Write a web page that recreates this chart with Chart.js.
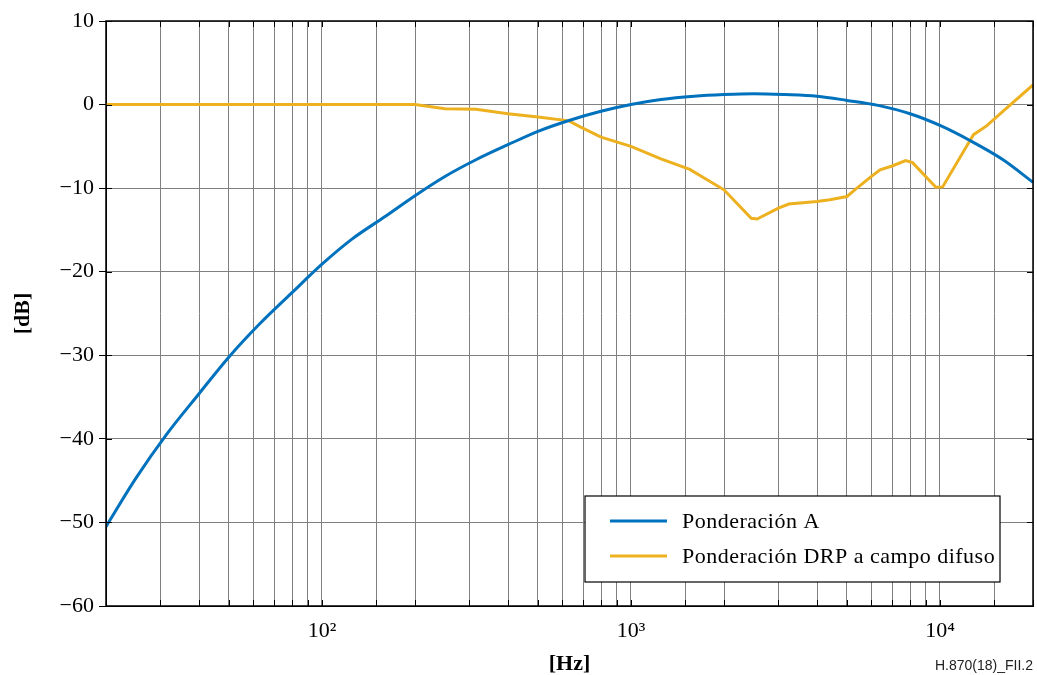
<!DOCTYPE html>
<html>
<head>
<meta charset="utf-8">
<script src="https://cdn.jsdelivr.net/npm/chart.js@4/dist/chart.umd.min.js"></script>
<style>
  body { margin: 0; background: #fff; }
  #wrap { position: relative; width: 1037px; height: 675px; }
  #ref { position: absolute; right: 4px; top: 657px; font: 14px "Liberation Sans", Arial, sans-serif; color: #222; }
</style>
</head>
<body>
<div id="wrap">
  <canvas id="myChart"></canvas>
  <div id="ref">H.870(18)_FII.2</div>
</div>
<script>
// A-weighting, 1/3 octave points
const freqA = [20, 25, 31.5, 40, 50, 63, 80, 100, 125, 160, 200, 250, 315, 400, 500, 630, 800,
  1000, 1250, 1600, 2000, 2500, 3150, 4000, 5000, 6300, 8000, 10000, 12500, 16000, 20000];
const weightA = [-50.5, -44.7, -39.4, -34.6, -30.2, -26.2, -22.5, -19.1, -16.1, -13.4, -10.9, -8.6, -6.6,
  -4.8, -3.2, -1.9, -0.8, 0, 0.6, 1.0, 1.2, 1.3, 1.2, 1.0, 0.5, -0.1, -1.1, -2.5, -4.3, -6.6, -9.3];

// DRP diffuse field weighting
const freqDrp = [20, 200, 250, 315, 400, 500, 630, 680, 800, 1000, 1250, 1550, 2000, 2450, 2560, 3000,
  3240, 4000, 4400, 5000, 5300, 6000, 6400, 7000, 7740, 8150, 9700, 10200, 12370, 12840, 14150, 16390, 20000];
const weightDrp = [0, 0, -0.5, -0.55, -1.1, -1.5, -1.95, -2.6, -3.9, -5.0, -6.5, -7.75, -10.2, -13.6, -13.7, -12.4,
  -11.9, -11.6, -11.4, -11.0, -10.2, -8.6, -7.8, -7.35, -6.7, -6.95, -9.9, -9.85, -4.6, -3.6, -2.55, -0.45, 2.35];

const seriesNames = ['Ponderación A', 'Ponderación DRP a campo difuso'];
const seriesColors = ['#0072BD', '#EDB120'];
const decadeLabels = {100: '10\u00B2', 1000: '10\u00B3', 10000: '10\u2074'};

const serif = '"Liberation Serif", "Times New Roman", serif';

const toPoints = (xs, ys) => xs.map((f, i) => ({x: f, y: ys[i]}));

const framePlugin = {
  id: 'frame',
  afterDraw(chart) {
    const {ctx, chartArea: a, scales} = chart;
    const x = scales.x, y = scales.y;
    ctx.save();
    // small inner ticks on top/bottom and right
    ctx.strokeStyle = '#000';
    ctx.lineWidth = 1;
    x.ticks.forEach(t => {
      const px = Math.round(x.getPixelForValue(t.value)) + 0.5;
      ctx.beginPath();
      ctx.moveTo(px, a.top); ctx.lineTo(px, a.top + 6);
      ctx.moveTo(px, a.bottom); ctx.lineTo(px, a.bottom - 6);
      ctx.stroke();
    });
    y.ticks.forEach(t => {
      const py = Math.round(y.getPixelForValue(t.value)) + 0.5;
      ctx.beginPath();
      ctx.moveTo(a.right, py); ctx.lineTo(a.right - 6, py);
      ctx.moveTo(a.left, py); ctx.lineTo(a.left + 6, py);
      ctx.stroke();
    });
    ctx.lineWidth = 1.5;
    ctx.strokeRect(a.left, a.top, a.right - a.left, a.bottom - a.top);

    // legend box
    const bx = a.left + 479, by = a.top + 475, bw = 415, bh = 86;
    ctx.fillStyle = '#fff';
    ctx.fillRect(bx, by, bw, bh);
    ctx.lineWidth = 1.2;
    ctx.strokeStyle = '#000';
    ctx.strokeRect(bx, by, bw, bh);
    ctx.font = '22px ' + serif;
    ctx.letterSpacing = '0.5px';
    ctx.textBaseline = 'middle';
    chart.data.datasets.forEach((ds, i) => {
      const ly = by + 25 + i * 35;
      ctx.strokeStyle = ds.borderColor;
      ctx.lineWidth = 3;
      ctx.beginPath();
      ctx.moveTo(bx + 25, ly); ctx.lineTo(bx + 82, ly);
      ctx.stroke();
      ctx.fillStyle = '#000';
      ctx.fillText(ds.label, bx + 97, ly + 1);
    });
    ctx.restore();
  }
};

const ctx = document.getElementById('myChart').getContext('2d');
const myChart = new Chart(ctx, {
  type: 'line',
  data: {
    datasets: [{
      label: seriesNames[0],
      data: toPoints(freqA, weightA),
      borderColor: seriesColors[0],
      borderWidth: 3,
      pointRadius: 0,
      cubicInterpolationMode: 'monotone'
    }, {
      label: seriesNames[1],
      data: toPoints(freqDrp, weightDrp),
      borderColor: seriesColors[1],
      borderWidth: 3,
      pointRadius: 0,
      tension: 0
    }]
  },
  options: {
    responsive: true,
    maintainAspectRatio: false,
    animation: false,
    layout: { padding: { top: 21, right: 4, left: 0, bottom: 0 } },
    scales: {
      x: {
        type: 'logarithmic',
        min: 20,
        max: 20000,
        afterFit: (s) => { s.height = 69; s.paddingRight = 0; s.paddingLeft = 0; },
        grid: { color: '#808080', drawTicks: false },
        border: { color: '#000' },
        ticks: {
          autoSkip: false,
          maxRotation: 0,
          padding: 12,
          color: '#000',
          font: { size: 22, family: serif },
          callback: (v) => decadeLabels[v] || ''
        },
        title: {
          display: true,
          text: '[Hz]',
          color: '#000',
          padding: { top: 0, bottom: -3 },
          font: { size: 22, weight: 'bold', family: serif }
        }
      },
      y: {
        min: -60,
        max: 10,
        afterFit: (s) => { s.width = 106; },
        grid: { color: '#808080', tickColor: '#000', tickLength: 7 },
        border: { color: '#000' },
        ticks: {
          stepSize: 10,
          padding: 5,
          color: '#000',
          font: { size: 22, family: serif },
          callback: (v) => v < 0 ? '\u2212' + Math.abs(v) : String(v)
        },
        title: {
          display: true,
          text: '[dB]',
          color: '#000',
          padding: { top: 10, bottom: 0 },
          font: { size: 22, weight: 'bold', family: serif }
        }
      }
    },
    plugins: {
      legend: { display: false },
      tooltip: { enabled: false }
    }
  },
  plugins: [framePlugin]
});
</script>
</body>
</html>
